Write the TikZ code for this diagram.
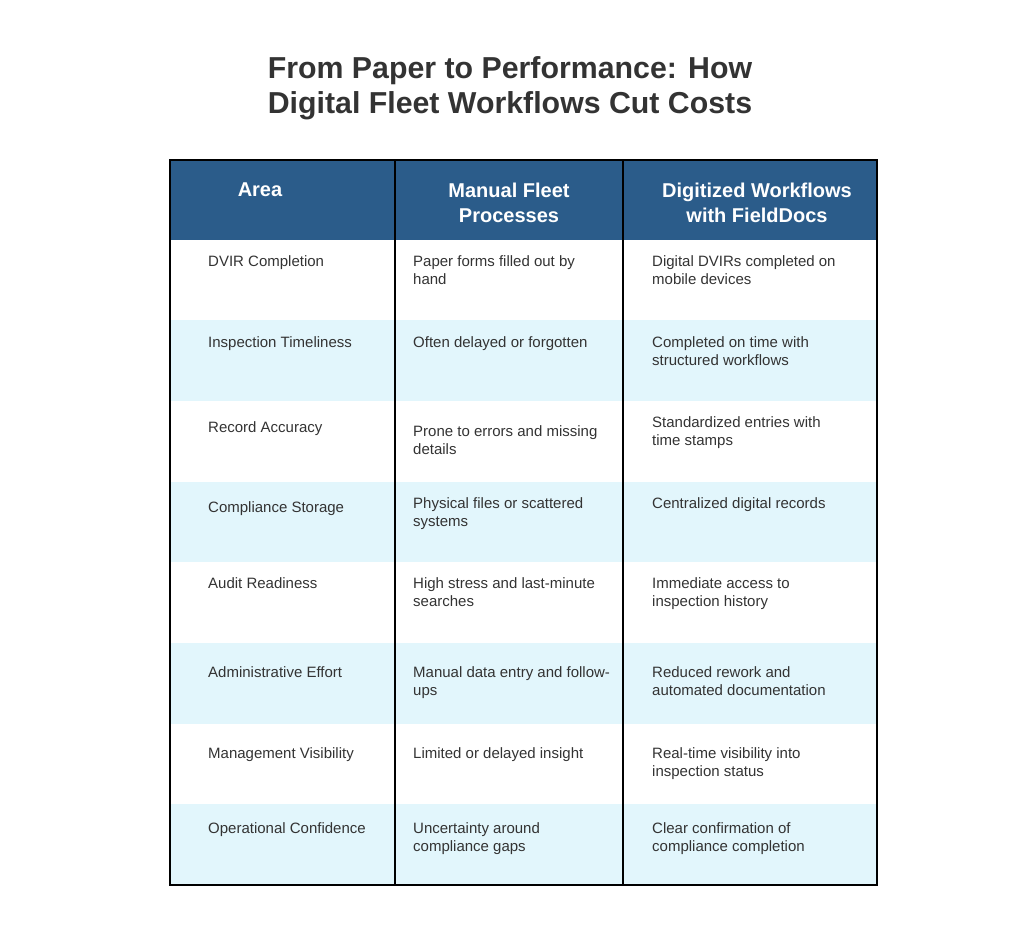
\documentclass[tikz,border=0pt]{standalone}
\usepackage{fontspec}
\setmainfont{Liberation Sans}
\definecolor{headblue}{HTML}{2B5C8A}
\definecolor{rowcyan}{HTML}{E2F6FC}
\definecolor{inkgray}{HTML}{333333}
\tikzset{
  title/.style={font=\fontsize{30.3}{35}\selectfont\bfseries, text=inkgray, align=center},
  headtext/.style={font=\fontsize{20}{25}\selectfont\bfseries, text=white, align=center},
  celltext/.style={anchor=north west, inner sep=0pt, font=\fontsize{15}{18}\selectfont, text=inkgray, align=left},
  rule/.style={draw=black, line width=1.2pt}
}
\begin{document}
\begin{tikzpicture}[x=1pt, y=-1pt]
\useasboundingbox (0,0) rectangle (1024,937);

\node (title) [title] at (510,88) {From Paper to Performance: How\\Digital Fleet Workflows Cut Costs};

% header and row fills
\fill[headblue] (170,160) rectangle (877,240);
\foreach \top/\bot in {320/401, 482/562, 643/724, 804/885}
  \fill[rowcyan] (170,\top) rectangle (877,\bot);

\node (hArea) [headtext] at (260,190) {Area};
\node (hManual) [headtext] at (509,203) {Manual Fleet\\Processes};
\node (hDigital) [headtext] at (757,203) {Digitized Workflows\\with FieldDocs};

% rows
\node (a1) [celltext] at (208,255) {DVIR Completion};
\node (b1) [celltext] at (413,255) {Paper forms filled out by\\hand};
\node (c1) [celltext] at (652,255) {Digital DVIRs completed on\\mobile devices};

\node (a2) [celltext] at (208,336) {Inspection Timeliness};
\node (b2) [celltext] at (413,336) {Often delayed or forgotten};
\node (c2) [celltext] at (652,336) {Completed on time with\\structured workflows};

\node (a3) [celltext] at (208,421) {Record Accuracy};
\node (b3) [celltext] at (413,425) {Prone to errors and missing\\details};
\node (c3) [celltext] at (652,416) {Standardized entries with\\time stamps};

\node (a4) [celltext] at (208,501) {Compliance Storage};
\node (b4) [celltext] at (413,497) {Physical files or scattered\\systems};
\node (c4) [celltext] at (652,497) {Centralized digital records};

\node (a5) [celltext] at (208,577) {Audit Readiness};
\node (b5) [celltext] at (413,577) {High stress and last-minute\\searches};
\node (c5) [celltext] at (652,577) {Immediate access to\\inspection history};

\node (a6) [celltext] at (208,666) {Administrative Effort};
\node (b6) [celltext] at (413,666) {Manual data entry and follow-\\ups};
\node (c6) [celltext] at (652,666) {Reduced rework and\\automated documentation};

\node (a7) [celltext] at (208,747) {Management Visibility};
\node (b7) [celltext] at (413,747) {Limited or delayed insight};
\node (c7) [celltext] at (652,747) {Real-time visibility into\\inspection status};

\node (a8) [celltext] at (208,822) {Operational Confidence};
\node (b8) [celltext] at (413,822) {Uncertainty around\\compliance gaps};
\node (c8) [celltext] at (652,822) {Clear confirmation of\\compliance completion};

% grid lines
\draw[rule] (170,160) rectangle (877,885);
\draw[rule] (395,160) -- (395,885);
\draw[rule] (623,160) -- (623,885);

\end{tikzpicture}
\end{document}
